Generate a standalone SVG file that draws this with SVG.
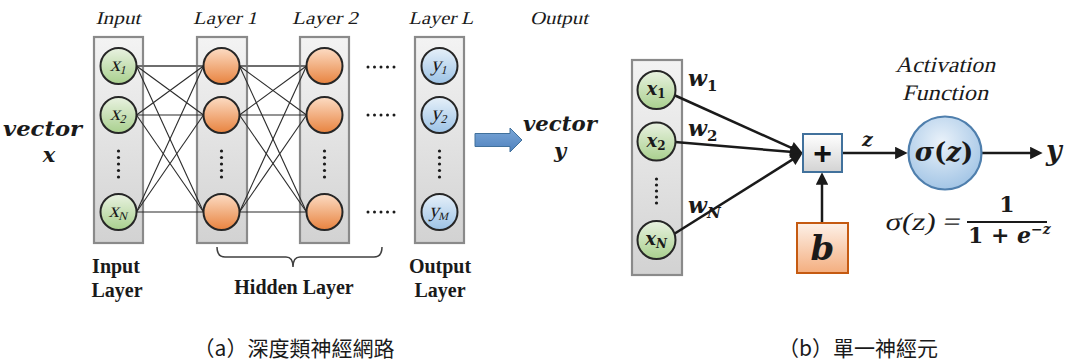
<svg xmlns="http://www.w3.org/2000/svg" width="1073" height="362" viewBox="0 0 1073 362">
<style>
.col{fill:url(#gCol);stroke:#8a8a8a;stroke-width:2.2}
.nIn{fill:url(#gIn);stroke:#262626;stroke-width:2}
.nHid{fill:url(#gHid);stroke:#262626;stroke-width:2}
.nOut{fill:url(#gOut);stroke:#262626;stroke-width:2}
.dot{fill:#1a1a1a}
.net{stroke:#2b2b2b;stroke-width:1.1;fill:none}
.neth{stroke:#6e6e6e;stroke-width:1.8;fill:none}
.arr{stroke:#1a1a1a;stroke-width:2.5;fill:none;marker-end:url(#ah)}
.lab{font-family:"Liberation Serif",serif;font-style:normal;font-size:18px;fill:#1a1a1a;text-anchor:middle}
.blab{font-family:"Liberation Serif",serif;font-weight:bold;font-size:20px;fill:#1a1a1a;text-anchor:middle}
.math{font-family:"Liberation Serif",serif;font-style:normal;fill:#1a1a1a;text-anchor:middle}
.bmath{font-family:"DejaVu Serif",serif;font-style:italic;font-weight:bold;fill:#1a1a1a}
.cap{font-family:"Noto Sans CJK TC","Noto Sans CJK SC",sans-serif;font-size:21px;fill:#1a1a1a;text-anchor:middle}
</style>
<defs>
<linearGradient id="gCol" x1="0" y1="0" x2="0" y2="1"><stop offset="0" stop-color="#f3f3f3"/><stop offset="1" stop-color="#d2d2d2"/></linearGradient>
<linearGradient id="gIn" x1="0" y1="0" x2="0" y2="1"><stop offset="0" stop-color="#e9f2e1"/><stop offset="1" stop-color="#a9d08e"/></linearGradient>
<linearGradient id="gHid" x1="0" y1="0" x2="0" y2="1"><stop offset="0" stop-color="#fcdcc4"/><stop offset="1" stop-color="#e8833f"/></linearGradient>
<linearGradient id="gOut" x1="0" y1="0" x2="0" y2="1"><stop offset="0" stop-color="#e6f0f9"/><stop offset="1" stop-color="#9dc3e6"/></linearGradient>
<linearGradient id="gPlus" x1="0" y1="0" x2="0" y2="1"><stop offset="0" stop-color="#ffffff"/><stop offset="1" stop-color="#d3d3d3"/></linearGradient>
<linearGradient id="gB" x1="0" y1="0" x2="0" y2="1"><stop offset="0" stop-color="#fdf1e8"/><stop offset="1" stop-color="#f4ae7f"/></linearGradient>
<linearGradient id="gArrow" x1="0" y1="0" x2="0" y2="1"><stop offset="0" stop-color="#7aa7d8"/><stop offset="1" stop-color="#4f81bd"/></linearGradient>
<radialGradient id="gSig" cx="0.45" cy="0.35" r="0.7"><stop offset="0" stop-color="#eaf2fa"/><stop offset="1" stop-color="#9ec2e4"/></radialGradient>
<marker id="ah" viewBox="0 0 10 10" refX="7" refY="5" markerWidth="5.5" markerHeight="5" orient="auto" markerUnits="strokeWidth"><path d="M0,0 L10,5 L0,10 z" fill="#1a1a1a"/></marker>
</defs>
<rect width="1073" height="362" fill="#ffffff"/>

<!-- (a) deep neural network -->
<g id="labels-top">
<text class="lab" transform="translate(118,24) skewX(-14)" textLength="45" lengthAdjust="spacingAndGlyphs">Input</text>
<text class="lab" transform="translate(225,24) skewX(-14)" textLength="64" lengthAdjust="spacingAndGlyphs">Layer 1</text>
<text class="lab" transform="translate(325,24) skewX(-14)" textLength="66" lengthAdjust="spacingAndGlyphs">Layer 2</text>
<text class="lab" transform="translate(441,24) skewX(-14)" textLength="65" lengthAdjust="spacingAndGlyphs">Layer L</text>
<text class="lab" transform="translate(559,24) skewX(-14)" textLength="58" lengthAdjust="spacingAndGlyphs">Output</text>
</g>

<g id="vector-x">
<text class="bmath" x="3" y="136" font-size="21" textLength="79" lengthAdjust="spacingAndGlyphs">vector</text>
<text class="bmath" x="49" y="162" font-size="21" text-anchor="middle">x</text>
</g>

<g id="col-input">
<rect class="col" x="94" y="37" width="49" height="206"/>
</g>
<g id="col-layer1">
<rect class="col" x="197" y="37" width="50" height="206"/>
</g>
<g id="col-layer2">
<rect class="col" x="300" y="37" width="49" height="206"/>
</g>
<g id="col-layerL">
<rect class="col" x="415" y="37" width="49" height="206"/>
</g>

<g id="connectors-a">
<line class="neth" x1="136.5" y1="66" x2="203.5" y2="66"/>
<line class="net" x1="136.5" y1="66" x2="203.5" y2="115"/>
<line class="net" x1="136.5" y1="66" x2="203.5" y2="212"/>
<line class="net" x1="136.5" y1="115" x2="203.5" y2="66"/>
<line class="net" x1="136.5" y1="115" x2="203.5" y2="115"/>
<line class="net" x1="136.5" y1="115" x2="203.5" y2="212"/>
<line class="net" x1="136.5" y1="212" x2="203.5" y2="66"/>
<line class="net" x1="136.5" y1="212" x2="203.5" y2="115"/>
<line class="net" x1="136.5" y1="212" x2="203.5" y2="212"/>
<line class="neth" x1="239.5" y1="66" x2="306.5" y2="66"/>
<line class="net" x1="239.5" y1="66" x2="306.5" y2="115"/>
<line class="net" x1="239.5" y1="66" x2="306.5" y2="212"/>
<line class="net" x1="239.5" y1="115" x2="306.5" y2="66"/>
<line class="net" x1="239.5" y1="115" x2="306.5" y2="115"/>
<line class="net" x1="239.5" y1="115" x2="306.5" y2="212"/>
<line class="net" x1="239.5" y1="212" x2="306.5" y2="66"/>
<line class="net" x1="239.5" y1="212" x2="306.5" y2="115"/>
<line class="net" x1="239.5" y1="212" x2="306.5" y2="212"/>
</g>

<g id="node-x1"><circle class="nIn" cx="118.5" cy="66" r="18"/><text class="math" transform="translate(118,71) skewX(-14)" font-size="21">x<tspan font-size="12" dy="3">1</tspan></text></g>
<g id="node-x2"><circle class="nIn" cx="118.5" cy="115" r="18"/><text class="math" transform="translate(118,120) skewX(-14)" font-size="21">x<tspan font-size="12" dy="3">2</tspan></text></g>
<g id="node-xN"><circle class="nIn" cx="118.5" cy="212" r="18"/><text class="math" transform="translate(118,217) skewX(-14)" font-size="21">x<tspan font-size="12" dy="3">N</tspan></text></g>

<g id="node-h1-1"><circle class="nHid" cx="221.5" cy="66" r="18"/></g>
<g id="node-h1-2"><circle class="nHid" cx="221.5" cy="115" r="18"/></g>
<g id="node-h1-n"><circle class="nHid" cx="221.5" cy="212" r="18"/></g>
<g id="node-h2-1"><circle class="nHid" cx="324.5" cy="66" r="18"/></g>
<g id="node-h2-2"><circle class="nHid" cx="324.5" cy="115" r="18"/></g>
<g id="node-h2-n"><circle class="nHid" cx="324.5" cy="212" r="18"/></g>

<g id="node-y1"><circle class="nOut" cx="439.5" cy="66" r="18"/><text class="math" transform="translate(439,71) skewX(-14)" font-size="21">y<tspan font-size="12" dy="3">1</tspan></text></g>
<g id="node-y2"><circle class="nOut" cx="439.5" cy="115" r="18"/><text class="math" transform="translate(439,120) skewX(-14)" font-size="21">y<tspan font-size="12" dy="3">2</tspan></text></g>
<g id="node-yM"><circle class="nOut" cx="439.5" cy="212" r="18"/><text class="math" transform="translate(439,217) skewX(-14)" font-size="20">y<tspan font-size="11" dy="3">M</tspan></text></g>

<g id="vdots">
<g class="dot">
<circle cx="118.5" cy="151" r="1.6"/><circle cx="118.5" cy="157.5" r="1.6"/><circle cx="118.5" cy="164" r="1.6"/><circle cx="118.5" cy="170.5" r="1.6"/><circle cx="118.5" cy="177" r="1.6"/>
<circle cx="221.5" cy="151" r="1.6"/><circle cx="221.5" cy="157.5" r="1.6"/><circle cx="221.5" cy="164" r="1.6"/><circle cx="221.5" cy="170.5" r="1.6"/><circle cx="221.5" cy="177" r="1.6"/>
<circle cx="324.5" cy="151" r="1.6"/><circle cx="324.5" cy="157.5" r="1.6"/><circle cx="324.5" cy="164" r="1.6"/><circle cx="324.5" cy="170.5" r="1.6"/><circle cx="324.5" cy="177" r="1.6"/>
<circle cx="439.5" cy="151" r="1.6"/><circle cx="439.5" cy="157.5" r="1.6"/><circle cx="439.5" cy="164" r="1.6"/><circle cx="439.5" cy="170.5" r="1.6"/><circle cx="439.5" cy="177" r="1.6"/>
</g>
</g>

<g id="hdots" class="dot">
<circle cx="368" cy="67" r="1.5"/><circle cx="374.5" cy="67" r="1.5"/><circle cx="381" cy="67" r="1.5"/><circle cx="387.5" cy="67" r="1.5"/><circle cx="394" cy="67" r="1.5"/>
<circle cx="368" cy="115" r="1.5"/><circle cx="374.5" cy="115" r="1.5"/><circle cx="381" cy="115" r="1.5"/><circle cx="387.5" cy="115" r="1.5"/><circle cx="394" cy="115" r="1.5"/>
<circle cx="368" cy="212" r="1.5"/><circle cx="374.5" cy="212" r="1.5"/><circle cx="381" cy="212" r="1.5"/><circle cx="387.5" cy="212" r="1.5"/><circle cx="394" cy="212" r="1.5"/>
</g>

<g id="brace">
<path d="M217,247 Q217,257 225,257 L286,257 Q293,257 293,267 Q293,257 300,257 L374,257 Q382,257 382,247" fill="none" stroke="#404040" stroke-width="1.5"/>
</g>

<g id="labels-bottom">
<text class="blab" x="116" y="273">Input</text>
<text class="blab" x="117" y="297">Layer</text>
<text class="blab" x="294" y="294">Hidden Layer</text>
<text class="blab" x="440" y="273">Output</text>
<text class="blab" x="440" y="297">Layer</text>
</g>

<g id="big-arrow">
<path d="M475,133.5 L510,133.5 L510,128 L522,140 L510,152 L510,146.5 L475,146.5 Z" fill="url(#gArrow)" stroke="#41719c" stroke-width="1"/>
</g>

<g id="vector-y">
<text class="bmath" x="523" y="131" font-size="21" textLength="74" lengthAdjust="spacingAndGlyphs">vector</text>
<text class="bmath" x="560" y="158" font-size="21" text-anchor="middle">y</text>
</g>

<!-- (b) single neuron -->
<g id="col-neuron-input">
<rect class="col" x="632" y="60" width="50" height="215"/>
</g>

<g id="connectors-b">
<line class="arr" x1="674" y1="95" x2="799.2" y2="151.4"/>
<line class="arr" x1="675" y1="142" x2="798.9" y2="152.6"/>
<line class="arr" x1="674" y1="234" x2="799.5" y2="155.1"/>
<line class="arr" x1="842" y1="153" x2="903.9" y2="153"/>
<line class="arr" x1="982" y1="153" x2="1038.9" y2="153"/>
<line class="arr" x1="822" y1="223" x2="822" y2="176.1"/>
</g>

<g id="node-nx1"><circle class="nIn" cx="656.5" cy="90" r="19"/><text class="bmath" x="656" y="95" font-size="18" text-anchor="middle">x<tspan font-style="normal" font-size="12" dy="3">1</tspan></text></g>
<g id="node-nx2"><circle class="nIn" cx="656.5" cy="141.5" r="19"/><text class="bmath" x="656" y="146.5" font-size="18" text-anchor="middle">x<tspan font-style="normal" font-size="12" dy="3">2</tspan></text></g>
<g id="node-nxN"><circle class="nIn" cx="656.5" cy="240" r="19"/><text class="bmath" x="656" y="245" font-size="18" text-anchor="middle">x<tspan font-size="12" dy="3">N</tspan></text></g>
<g id="vdots-b" class="dot">
<circle cx="656.5" cy="179" r="1.6"/><circle cx="656.5" cy="185" r="1.6"/><circle cx="656.5" cy="191" r="1.6"/><circle cx="656.5" cy="197" r="1.6"/><circle cx="656.5" cy="203" r="1.6"/>
</g>

<g id="weights">
<text class="bmath" x="688" y="86" font-size="22">w<tspan font-style="normal" font-size="15" dy="5">1</tspan></text>
<text class="bmath" x="688" y="136" font-size="22">w<tspan font-style="normal" font-size="15" dy="5">2</tspan></text>
<text class="bmath" x="688" y="213" font-size="22">w<tspan font-size="15" dy="5">N</tspan></text>
</g>

<g id="node-sum">
<rect x="803" y="134" width="39" height="38" fill="url(#gPlus)" stroke="#41719c" stroke-width="2"/>
<text x="822.5" y="164" font-family="Liberation Sans,sans-serif" font-weight="bold" font-size="32" text-anchor="middle" fill="#111">+</text>
</g>

<g id="node-bias">
<rect x="797" y="223" width="51" height="50" fill="url(#gB)" stroke="#c55a11" stroke-width="2"/>
<text class="bmath" x="822.5" y="260" font-size="34" text-anchor="middle">b</text>
</g>

<g id="label-z">
<text class="bmath" x="862" y="146" font-size="19">z</text>
</g>

<g id="activation-label">
<text class="lab" transform="translate(945,72) skewX(-14)" textLength="100" lengthAdjust="spacingAndGlyphs" style="font-size:22px">Activation</text>
<text class="lab" transform="translate(945,100) skewX(-14)" textLength="86" lengthAdjust="spacingAndGlyphs" style="font-size:22px">Function</text>
</g>

<g id="node-sigma">
<circle cx="945" cy="153" r="36.5" fill="url(#gSig)" stroke="#4f7fad" stroke-width="2.2"/>
<text class="bmath" x="944" y="161" font-size="26" text-anchor="middle">σ<tspan font-style="normal">(</tspan>z<tspan font-style="normal">)</tspan></text>
</g>

<g id="output-y">
<text class="bmath" x="1046" y="160" font-size="27">y</text>
</g>

<g id="formula">
<text class="math" transform="translate(922,230) skewX(-10)" font-size="25" textLength="75" lengthAdjust="spacingAndGlyphs">σ(z) =</text>
<text x="1007" y="212" font-family="DejaVu Serif,serif" font-weight="bold" font-size="22" text-anchor="middle" fill="#1a1a1a">1</text>
<line x1="967" y1="222" x2="1047" y2="222" stroke="#1a1a1a" stroke-width="2"/>
<text x="968" y="243" font-family="DejaVu Serif,serif" font-weight="bold" font-size="22" fill="#1a1a1a">1 + <tspan font-style="italic">e</tspan><tspan font-size="14" dy="-9" font-style="italic">−z</tspan></text>
</g>

<g id="captions">
<text class="cap" x="294" y="356">（a）深度類神經網路</text>
<text class="cap" x="858" y="356">（b）單一神經元</text>
</g>
</svg>
